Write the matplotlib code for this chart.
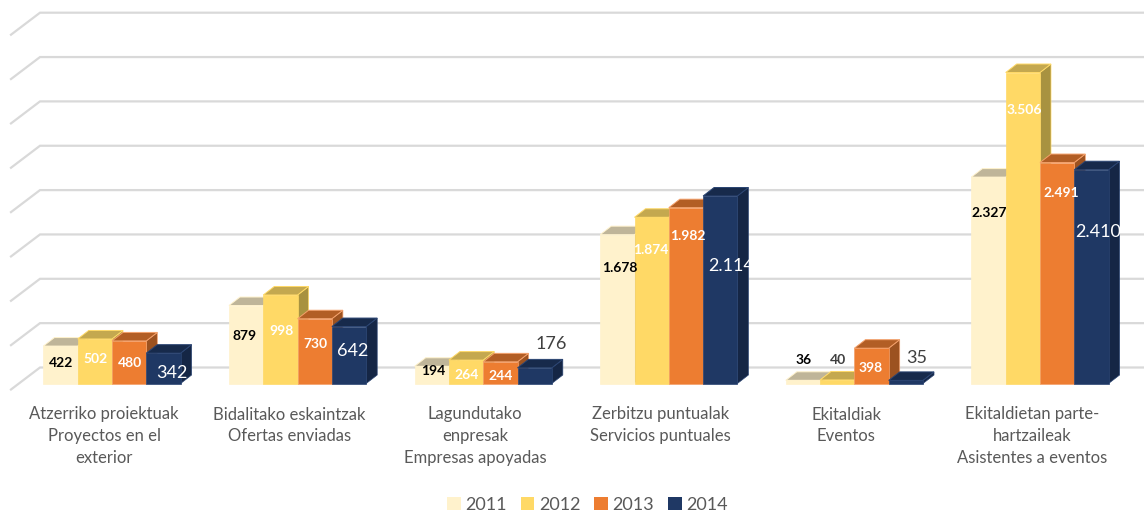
import matplotlib
matplotlib.use("Agg")
import matplotlib.pyplot as plt
from matplotlib.patches import Polygon, Patch

# ---------- data ----------
categories = [
    "Atzerriko proiektuak\nProyectos en el\nexterior",
    "Bidalitako eskaintzak\nOfertas enviadas",
    "Lagundutako\nenpresak\nEmpresas apoyadas",
    "Zerbitzu puntualak\nServicios puntuales",
    "Ekitaldiak\nEventos",
    "Ekitaldietan parte-\nhartzaileak\nAsistentes a eventos",
]
years = ["2011", "2012", "2013", "2014"]
v2011 = [422, 879, 194, 1678, 36, 2327]
v2012 = [502, 998, 264, 1874, 40, 3506]
v2013 = [480, 730, 244, 1982, 398, 2491]
v2014 = [342, 642, 176, 2114, 35, 2410]
series = [v2011, v2012, v2013, v2014]
grid_values = [0, 500, 1000, 1500, 2000, 2500, 3000, 3500, 4000]

# ---------- style ----------
W, H = 1144, 513
PX_PER_CAT = 185.6
PX_PER_VAL = 0.0887
X0_PX = 112.0      # pixel position of category 0 centre
BASE_PX = 383.5    # pixel position of value 0 at the bars' front
front = ["#FFF2CC", "#FFD966", "#ED7D31", "#1F3864"]
top = ["#BFB599", "#C4A84F", "#B25E25", "#172A4B"]
side = ["#BFB599", "#A89240", "#9C5220", "#152645"]
edge = ["#FFF2CC", "#FFD966", "#F4A06A", "#2A4472"]
GRID = "#D9D9D9"
TXT = "#595959"
DARK = "#404040"
plt.rcParams["font.family"] = ["Lato", "DejaVu Sans"]

fig = plt.figure(figsize=(W / 100, H / 100), dpi=100)
ax = fig.add_axes([0, 0, 1, 1])
ax.set_xlim(-X0_PX / PX_PER_CAT, (W - X0_PX) / PX_PER_CAT)
ax.set_ylim((BASE_PX - H) / PX_PER_VAL, BASE_PX / PX_PER_VAL)
ax.axis("off")

dxp = lambda p: p / PX_PER_CAT
dyp = lambda p: p / PX_PER_VAL

# walls: horizontal gridlines with a receding left segment
BACK_Y = dyp(383.5 - 367.5)
left_back = dxp(40 - X0_PX)
left_front = dxp(11 - X0_PX)
right = dxp(W - X0_PX)
for g in grid_values:
    y = g + BACK_Y
    ax.plot([left_front, left_back, right], [y - dyp(22), y, y],
            color=GRID, lw=1.6, solid_joinstyle="miter", zorder=1)

# bars
BW = 34.3 / PX_PER_CAT
DX = dxp(11)
DY = dyp(8.5)
z = 2
for c in range(len(categories)):
    for s, vals in enumerate(series):
        v = vals[c]
        x0 = c + (s - 2) * BW
        x1 = x0 + BW
        ax.add_patch(Polygon([(x1, 0), (x1 + DX, DY), (x1 + DX, v + DY), (x1, v)],
                             fc=side[s], ec=edge[s], lw=0.5, zorder=z))
        ax.add_patch(Polygon([(x0, v), (x1, v), (x1 + DX, v + DY), (x0 + DX, v + DY)],
                             fc=top[s], ec=edge[s], lw=0.7, zorder=z))
        ax.add_patch(Polygon([(x0, 0), (x1, 0), (x1, v), (x0, v)],
                             fc=front[s], ec=edge[s], lw=0.5, zorder=z + 0.1))
        z += 0.2

# data labels: pixel positions of each label centre, per year
label_px = [
    [(61, 363), (245, 336), (433, 371), (620, 268), (804, 360), (989, 213)],
    [(96, 359), (281, 331), (467, 375), (651, 250), (838, 360), (1024, 110)],
    [(130, 363), (315, 344), (501, 376), (688, 236), (871, 368), (1061, 193)],
    [(172, 373), (353, 351), (551, 344), (731, 266), (917, 358), (1098, 232)],
]
lab_col = [
    ["black"] * 6,
    ["white", "white", "white", "white", DARK, "white"],
    ["white"] * 6,
    ["white", "white", DARK, "white", DARK, "white"],
]
fmt = lambda n: f"{n:,}".replace(",", ".")
for s, vals in enumerate(series):
    for c, v in enumerate(vals):
        px, py = label_px[s][c]
        big = s == 3
        ax.text((px - X0_PX) / PX_PER_CAT, (BASE_PX - py) / PX_PER_VAL, fmt(v),
                ha="center", va="center", color=lab_col[s][c],
                fontsize=13 if big else 10,
                fontweight="normal" if big else "bold", zorder=100)

# category labels
for c, name in enumerate(categories):
    ax.text(c - dxp(8), (BASE_PX - 406.5) / PX_PER_VAL, name, ha="center", va="top",
            color=TXT, fontsize=12, linespacing=1.46, zorder=100)

# legend
handles = [Patch(fc=front[i], ec="none", label=years[i]) for i in range(4)]
ax.legend(handles=handles, loc="center", bbox_to_anchor=(587.5 / W, 1 - 504.5 / H), ncol=4,
          frameon=False, fontsize=13, labelcolor=TXT, handlelength=0.75,
          handleheight=0.75, handletextpad=0.25, columnspacing=0.78, borderpad=0)

fig.savefig("out.png", dpi=100)
